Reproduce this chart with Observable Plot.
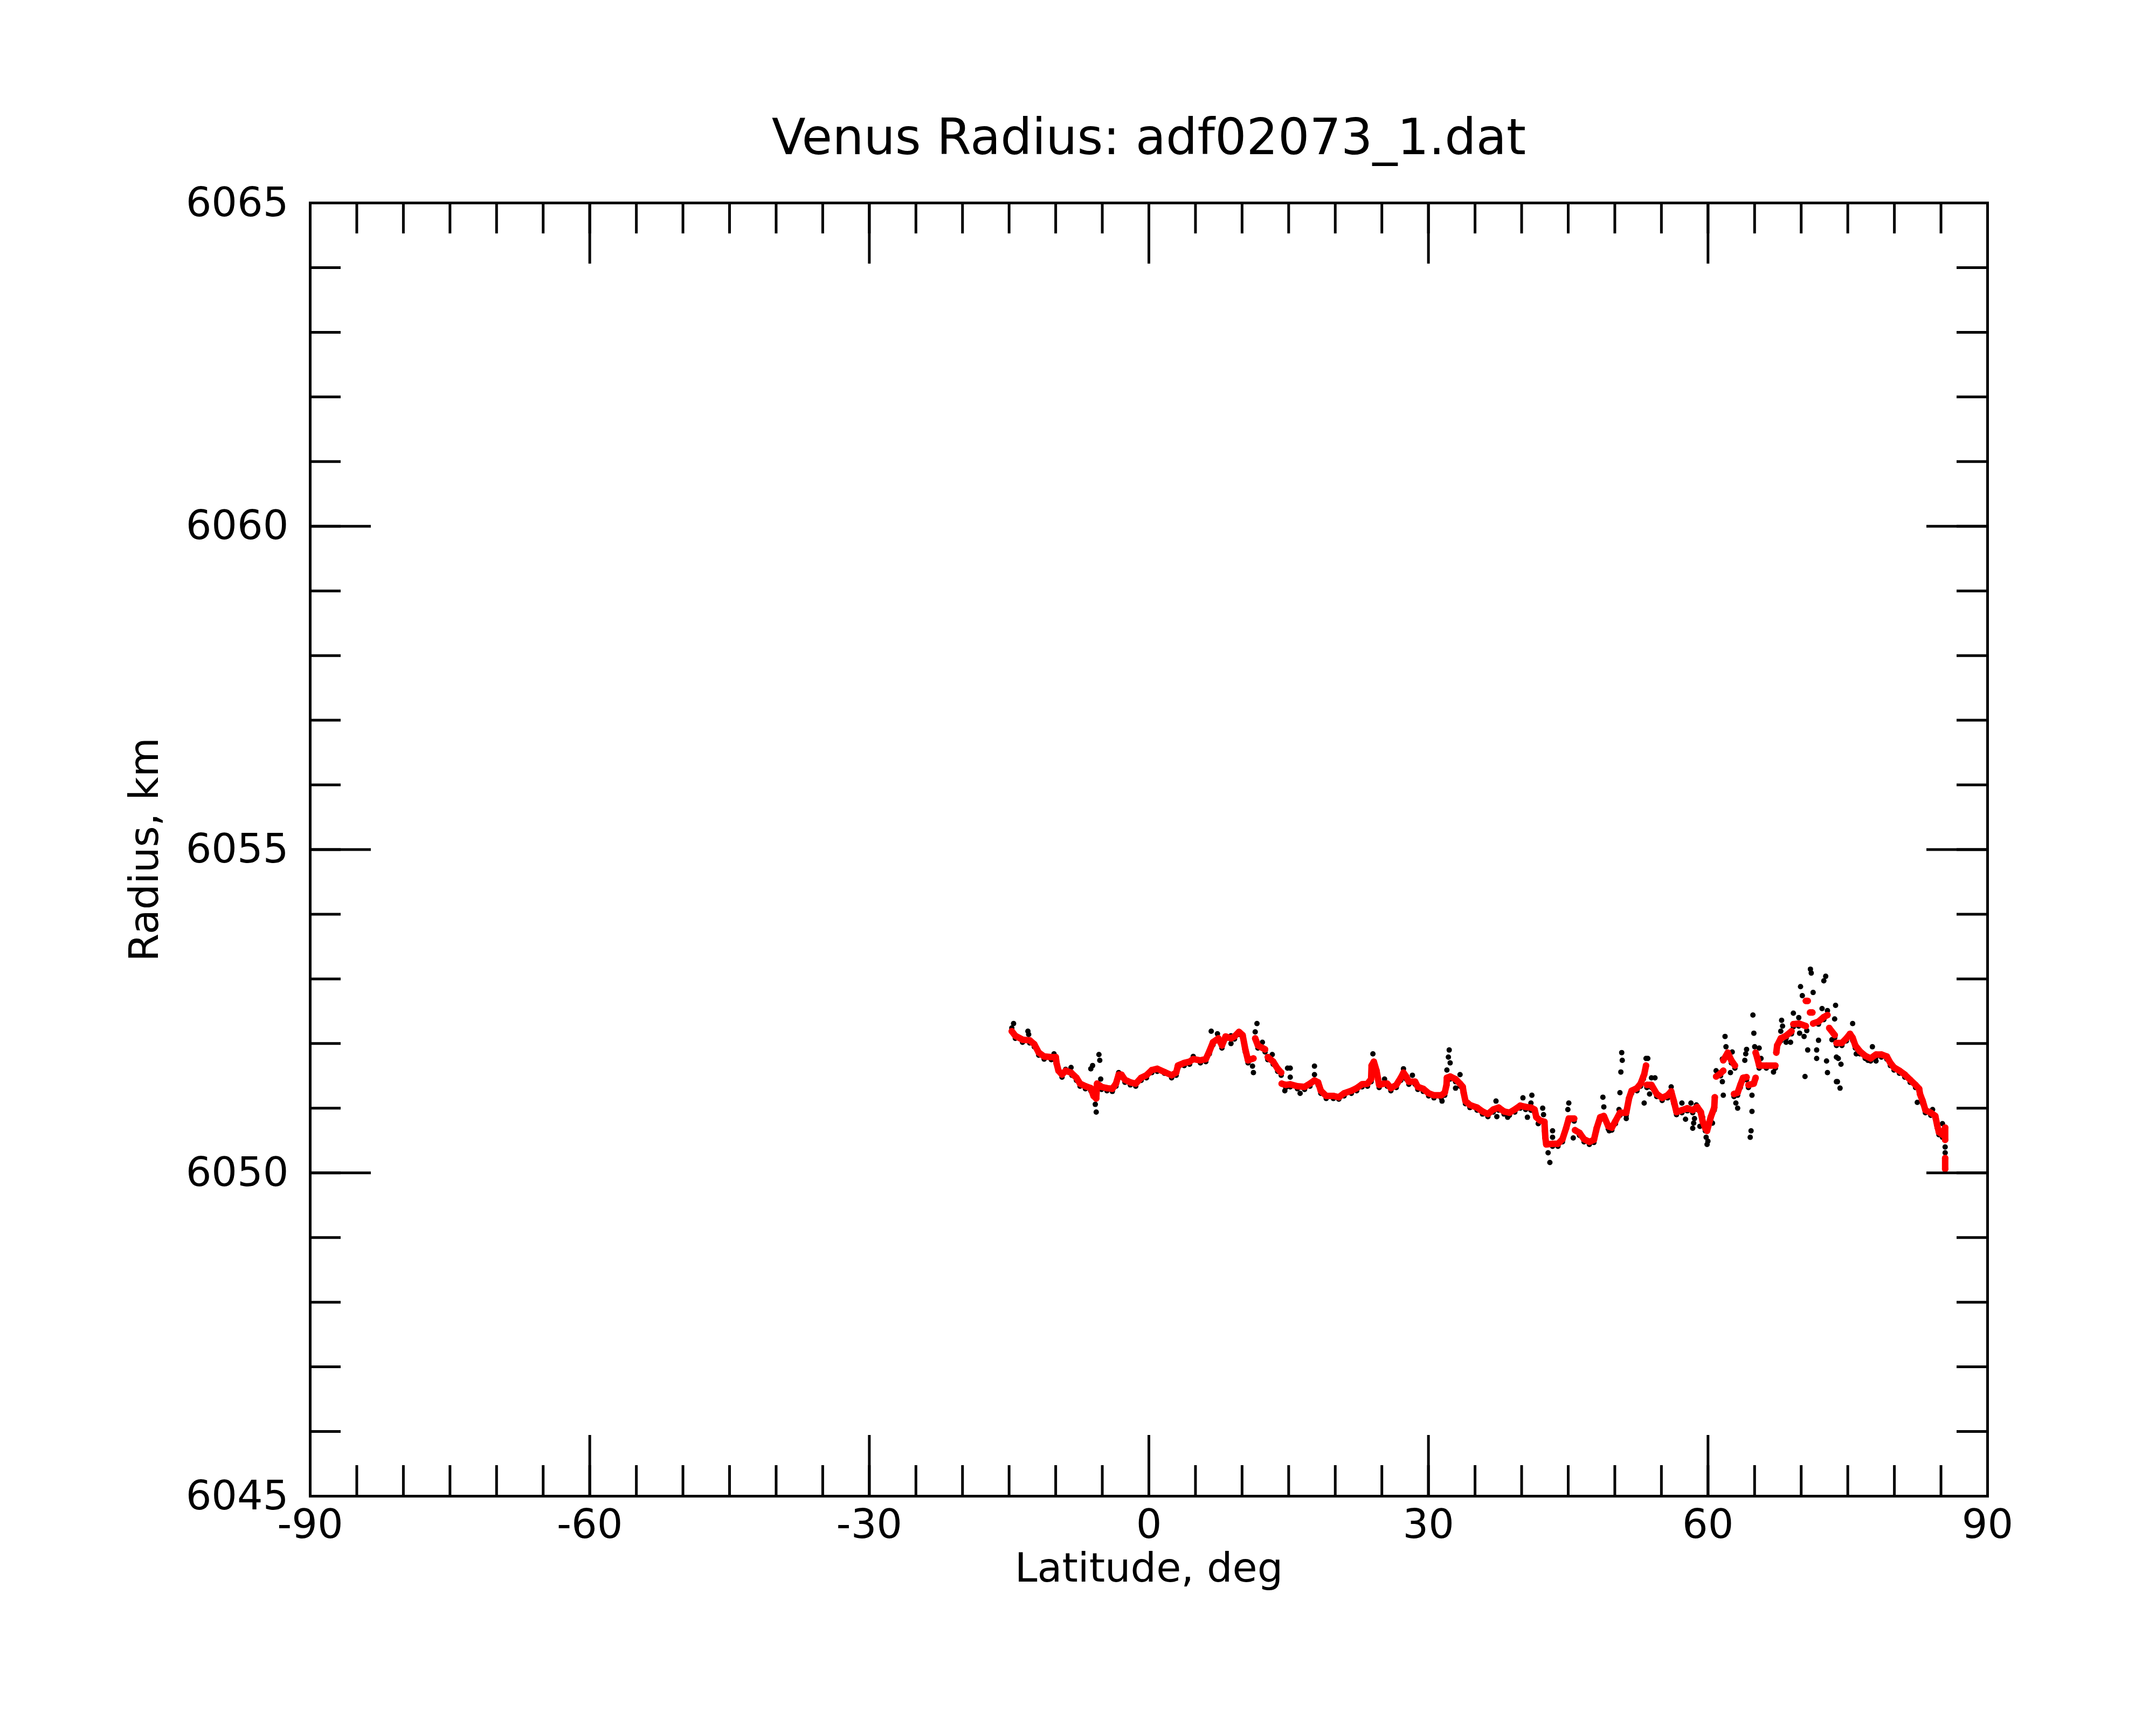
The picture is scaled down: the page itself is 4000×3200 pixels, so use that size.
<!DOCTYPE html>
<html>
<head>
<meta charset="utf-8">
<script src="https://cdn.jsdelivr.net/npm/d3@7"></script>
<script src="https://cdn.jsdelivr.net/npm/@observablehq/plot@0.6"></script>
<style>
  html, body { margin: 0; padding: 0; background: white; }
</style>
</head>
<body>
<div id="chart"></div>
<script>
// ---- tick definitions ----
const xMajorTicks = [-90, -60, -30, 0, 30, 60, 90];
const xMinorTicks = d3.range(-85, 90, 5);
const yMajorTicks = [6045, 6050, 6055, 6060, 6065];
const yMinorTicks = d3.range(6046, 6065, 1);

// ---- smoothed radius (red), null = gap ----
const redLat = [
  -14.71,-14.33,-13.56,-12.79,-12.30,-11.82,-11.24,-10.47,-9.99,-9.90,-9.70,-9.32,-8.93,-8.35,-7.77,-7.39,-6.81,-6.23,-5.94,-5.65,-5.56,-5.08,-4.50,-3.92,-3.53,-3.24,-2.95,-2.57,-1.99,-1.41,-0.83,-0.26,0.32,0.90,1.67,2.44,2.93,3.12,3.79,4.37,4.76,5.53,6.11,6.49,6.88,7.46,7.84,8.23,8.81,9.19,9.67,10.06,10.35,10.64,11.22,
  11.25,
  11.41,11.70,12.47,
  12.50,
  12.76,13.34,13.82,14.20,
  14.22,
  14.25,14.69,15.17,15.94,16.71,17.29,17.77,18.16,18.45,19.03,19.80,20.38,20.95,21.73,22.30,22.88,23.46,23.85,23.90,24.14,24.43,24.71,25.20,25.58,25.97,26.55,27.03,27.32,27.61,27.90,28.57,28.86,29.44,30.02,30.59,31.37,31.75,31.94,31.98,32.33,32.91,33.39,33.68,33.78,33.97,34.45,35.22,35.80,36.38,36.96,37.53,38.11,38.69,39.27,39.85,40.43,41.00,41.39,41.58,41.97,42.45,42.50,42.55,42.64,43.32,43.90,44.38,44.77,45.06,45.64,
  45.70,
  45.73,46.21,46.70,47.27,47.76,48.05,48.43,48.82,49.30,49.68,50.07,50.55,51.23,51.52,51.80,52.38,52.77,53.06,53.15,53.35,
  53.40,
  53.44,53.93,54.50,55.08,55.66,56.05,56.33,56.62,57.20,57.78,58.36,58.84,59.23,59.42,59.71,59.90,60.29,60.67,60.73,
  60.80,
  60.87,61.35,61.64,
  61.64,
  61.64,62.12,62.50,62.89,
  62.85,
  62.79,63.18,63.47,63.76,64.14,
  64.20,
  64.34,64.91,65.11,
  65.11,
  65.11,65.30,65.49,66.26,67.23,
  67.30,
  67.33,67.42,67.81,68.38,68.96,
  69.00,
  69.16,69.74,70.50,
  70.50,
  70.50,70.70,
  70.80,
  70.95,71.20,
  71.25,
  71.28,71.86,72.43,72.82,
  72.90,
  73.01,73.60,
  73.70,
  73.79,74.37,74.85,75.24,75.52,75.81,76.30,76.87,77.45,78.03,78.61,79.19,79.57,79.96,80.54,81.12,81.69,82.27,82.66,82.75,83.04,83.33,83.91,84.39,84.59,84.78,85.16,85.45,85.45,
  85.45,
  85.45,85.45
];
const redRadius = [
  6052.19,6052.12,6052.06,6052.05,6051.99,6051.86,6051.80,6051.79,6051.79,6051.69,6051.58,6051.52,6051.58,6051.55,6051.47,6051.38,6051.34,6051.31,6051.19,6051.15,6051.38,6051.33,6051.31,6051.30,6051.38,6051.52,6051.52,6051.44,6051.40,6051.38,6051.47,6051.51,6051.59,6051.61,6051.56,6051.51,6051.55,6051.66,6051.70,6051.72,6051.76,6051.74,6051.76,6051.88,6052.02,6052.08,6051.97,6052.11,6052.08,6052.11,6052.18,6052.13,6051.91,6051.74,6051.77,
  null,
  6052.08,6051.97,6051.91,
  null,
  6051.79,6051.72,6051.61,6051.55,
  null,
  6051.38,6051.36,6051.37,6051.34,6051.33,6051.38,6051.43,6051.40,6051.27,6051.19,6051.19,6051.17,6051.23,6051.27,6051.31,6051.37,6051.38,6051.45,6051.66,6051.72,6051.58,6051.36,6051.38,6051.38,6051.31,6051.36,6051.47,6051.55,6051.49,6051.41,6051.41,6051.33,6051.30,6051.23,6051.20,6051.20,6051.24,6051.36,6051.47,6051.49,6051.45,6051.38,6051.33,6051.24,6051.11,6051.05,6051.01,6050.95,6050.91,6050.98,6051.01,6050.95,6050.93,6050.98,6051.04,6051.02,6051.01,6050.98,6050.86,6050.81,6050.79,6050.65,6050.54,6050.44,6050.45,6050.45,6050.52,6050.69,6050.84,6050.84,
  null,
  6050.66,6050.62,6050.52,6050.48,6050.51,6050.69,6050.86,6050.88,6050.72,6050.70,6050.80,6050.93,6050.93,6051.15,6051.27,6051.31,6051.38,6051.49,6051.52,6051.66,
  null,
  6051.36,6051.36,6051.22,6051.16,6051.20,6051.26,6051.11,6050.94,6050.97,6051.00,6050.97,6051.02,6050.94,6050.80,6050.69,6050.65,6050.86,6051.01,6051.17,
  null,
  6051.49,6051.54,6051.58,
  null,
  6051.74,6051.86,6051.74,6051.66,
  null,
  6051.22,6051.24,6051.36,6051.47,6051.48,
  null,
  6051.36,6051.38,6051.47,
  null,
  6051.86,6051.77,6051.66,6051.66,6051.66,
  null,
  6051.86,6051.97,6052.08,6052.12,6052.19,
  null,
  6052.30,6052.31,6052.27,
  null,
  6052.66,6052.66,
  null,
  6052.48,6052.48,
  null,
  6052.31,6052.34,6052.41,6052.44,
  null,
  6052.24,6052.13,
  null,
  6052.01,6052.01,6052.08,6052.15,6052.09,6051.97,6051.88,6051.81,6051.77,6051.83,6051.83,6051.80,6051.70,6051.63,6051.58,6051.52,6051.44,6051.36,6051.30,6051.22,6051.11,6050.97,6050.93,6050.88,6050.74,6050.63,6050.59,6050.70,6050.51,
  null,
  6050.23,6050.06
];

// ---- raw radius samples (black) ----
const blackLat = [
  -14.71,-14.52,-14.33,-13.56,-12.98,-12.90,-12.79,-12.30,-11.82,-11.24,-10.47,-10.18,-9.99,-9.32,-8.93,-8.35,-8.26,-7.77,-7.39,-6.81,-6.23,-6.23,-6.04,-5.36,-5.27,-5.75,-5.65,-5.17,-5.08,-4.50,-3.92,-3.53,-3.24,-2.95,-2.57,-1.99,-1.41,-0.83,-0.26,0.32,0.90,1.67,2.44,2.93,3.12,3.79,4.20,4.37,4.76,5.53,6.11,6.49,6.69,6.88,7.36,7.46,7.84,8.23,8.81,8.81,9.19,9.67,10.06,10.35,10.64,11.12,11.22,11.60,11.41,12.18,11.70,12.47,12.76,13.24,13.34,13.82,14.20,14.59,14.88,14.69,
  15.17,15.17,15.17,15.94,16.23,16.71,17.29,17.77,17.77,18.16,18.45,19.03,19.80,20.38,20.95,21.73,22.30,22.88,23.46,23.85,24.04,24.14,24.43,24.71,25.29,25.58,25.97,26.55,27.03,27.32,27.61,27.90,28.28,28.57,28.86,29.44,30.02,30.59,31.37,31.46,31.75,31.98,32.23,32.14,32.33,32.33,32.91,32.91,33.39,33.39,33.68,33.97,34.45,35.22,35.80,36.38,36.96,37.25,37.34,37.53,38.11,38.50,38.69,39.27,39.85,40.14,40.43,40.62,41.00,41.10,41.00,41.39,41.78,42.26,42.35,42.45,43.32,43.32,42.84,43.03,43.32,43.90,44.38,
  45.06,44.96,45.06,45.54,45.64,46.21,46.70,47.27,47.76,48.05,48.43,48.72,48.82,48.82,49.40,49.30,49.68,50.07,50.45,50.55,50.65,50.80,50.74,50.55,51.23,51.23,51.52,51.80,52.38,52.77,53.06,53.15,53.35,53.54,53.44,53.73,53.93,54.31,53.93,54.50,55.08,55.66,56.05,56.05,56.33,56.62,57.20,57.20,57.59,57.78,58.17,58.36,58.46,58.36,58.55,58.75,58.84,59.13,59.23,59.42,59.42,59.80,59.90,59.99,59.71,60.48,60.29,60.67,
  60.87,61.35,61.54,61.64,61.83,61.93,61.54,62.12,62.41,62.60,62.50,62.89,62.99,63.18,62.79,63.18,63.47,63.76,63.95,64.14,64.05,64.14,64.34,64.72,64.72,64.62,64.53,64.82,64.92,65.01,65.49,65.69,65.49,66.26,67.03,67.23,67.42,67.81,67.90,68.00,67.81,68.38,68.86,68.38,68.96,69.16,69.16,69.74,69.83,69.74,70.31,70.60,69.93,70.12,70.70,70.41,70.99,71.08,71.28,71.66,71.66,71.86,71.86,72.24,72.43,72.63,72.82,72.72,72.82,72.43,73.69,73.59,73.78,73.78,73.30,73.98,74.27,74.17,73.89,73.60,
  73.79,74.37,74.85,75.52,75.52,75.24,75.81,75.91,76.30,76.87,77.16,77.45,77.64,78.03,78.03,78.61,79.19,79.57,79.96,80.54,81.12,81.69,82.27,82.46,82.66,83.04,83.33,83.91,84.10,84.39,84.59,84.78,85.16,85.45,85.45,85.16
];
const blackRadius = [
  6052.24,6052.31,6052.08,6052.02,6052.19,6052.14,6052.01,6051.95,6051.82,6051.76,6051.75,6051.84,6051.75,6051.48,6051.60,6051.63,6051.51,6051.43,6051.34,6051.30,6051.27,6051.61,6051.66,6051.83,6051.74,6051.06,6050.94,6051.45,6051.29,6051.27,6051.26,6051.34,6051.55,6051.48,6051.40,6051.36,6051.34,6051.43,6051.47,6051.55,6051.57,6051.54,6051.47,6051.51,6051.62,6051.66,6051.72,6051.68,6051.80,6051.70,6051.72,6051.84,6052.19,6051.98,6052.15,6052.04,6051.93,6052.07,6052.12,6052.00,6052.07,6052.14,6052.09,6051.87,6051.70,6051.65,6051.55,6052.31,6052.18,6052.02,6051.93,6051.87,6051.75,6051.83,6051.68,6051.57,6051.51,6051.27,6051.62,6051.32,
  6051.62,6051.48,6051.33,6051.30,6051.23,6051.29,6051.34,6051.65,6051.52,6051.36,6051.23,6051.15,6051.15,6051.14,6051.19,6051.23,6051.27,6051.33,6051.34,6051.41,6051.84,6051.68,6051.54,6051.32,6051.45,6051.34,6051.27,6051.32,6051.43,6051.61,6051.45,6051.37,6051.51,6051.37,6051.29,6051.26,6051.19,6051.16,6051.16,6051.11,6051.20,6051.59,6051.90,6051.79,6051.70,6051.45,6051.31,6051.41,6051.52,6051.34,6051.29,6051.07,6051.01,6050.97,6050.91,6050.87,6050.94,6051.11,6050.87,6050.97,6050.91,6050.86,6050.89,6050.94,6051.00,6051.16,6050.98,6050.86,6051.08,6051.20,6050.97,6050.94,6050.76,6051.00,6050.90,6050.75,6050.65,6050.55,6050.31,6050.16,6050.41,6050.41,6050.48,
  6051.08,6050.98,6050.80,6050.54,6050.80,6050.58,6050.48,6050.44,6050.47,6050.65,6050.82,6051.17,6051.02,6050.84,6050.65,6050.68,6050.66,6050.76,6050.98,6051.24,6051.56,6051.74,6051.86,6050.89,6050.84,6050.89,6051.11,6051.23,6051.27,6051.34,6051.45,6051.08,6051.77,6051.77,6051.32,6051.22,6051.47,6051.47,6051.32,6051.18,6051.12,6051.16,6051.33,6051.22,6051.07,6050.90,6051.08,6050.93,6050.83,6050.96,6051.08,6050.93,6050.77,6050.69,6050.84,6051.05,6050.98,6050.72,6050.90,6050.86,6050.76,6050.55,6050.44,6050.49,6050.65,6050.77,6050.82,6050.97,
  6051.58,6051.50,6051.41,6051.20,6052.11,6051.95,6051.76,6051.82,6051.55,6051.87,6051.70,6051.62,6051.08,6051.00,6051.18,6051.20,6051.32,6051.43,6051.74,6051.91,6051.84,6051.44,6051.32,6051.20,6050.95,6050.65,6050.55,6052.44,6052.16,6051.95,6051.93,6051.77,6051.62,6051.62,6051.56,6051.62,6051.93,6052.04,6052.36,6052.27,6052.19,6052.02,6052.02,6052.08,6052.15,6052.47,6052.26,6052.40,6052.16,6052.27,6052.11,6052.20,6052.88,6052.74,6051.90,6051.49,6053.15,6053.09,6052.79,6051.90,6051.77,6052.05,6052.30,6052.54,6052.97,6053.04,6052.51,6051.73,6051.55,6052.37,6052.59,6052.38,6051.79,6051.41,6052.06,6051.77,6051.68,6051.31,6051.41,6052.09,
  6051.97,6051.97,6052.04,6052.31,6052.05,6052.11,6051.93,6051.84,6051.84,6051.77,6051.74,6051.73,6051.95,6051.73,6051.79,6051.79,6051.76,6051.66,6051.59,6051.54,6051.48,6051.40,6051.32,6051.09,6051.26,6051.07,6050.93,6050.89,6050.98,6050.84,6050.70,6050.59,6050.76,6050.40,6050.31,6050.55
];

const raw = blackLat.map((lat, i) => ({lat, r: blackRadius[i]}));
const smooth = redLat.map((lat, i) => ({lat, r: redRadius[i]}));

// ---- layout ----
const W = 4000, H = 3200;
const mL = 575, mR = 313, mT = 376, mB = 425;
const fw = W - mL - mR, fh = H - mT - mB;
const minorLen = 57, majorLen = 113, tw = 5;

const chart = Plot.plot({
  width: W, height: H,
  marginLeft: mL, marginRight: mR, marginTop: mT, marginBottom: mB,
  style: {fontFamily: "DejaVu Sans", background: "white", color: "black"},
  x: {domain: [-90, 90]},
  y: {domain: [6045, 6065]},
  marks: [
    // data
    Plot.dot(raw, {x: "lat", y: "r", r: 5, fill: "black"}),
    Plot.line(smooth, {x: "lat", y: "r", stroke: "red", strokeWidth: 12, strokeLinecap: "round", strokeLinejoin: "round"}),
    Plot.dot(smooth, {x: "lat", y: "r", r: 6, fill: "red"}),
    // inward ticks: bottom & top
    Plot.tickX(xMinorTicks, {x: d => d, insetTop: fh - minorLen, stroke: "black", strokeWidth: tw}),
    Plot.tickX(xMajorTicks, {x: d => d, insetTop: fh - majorLen, stroke: "black", strokeWidth: tw}),
    Plot.tickX(xMinorTicks, {x: d => d, insetBottom: fh - minorLen, stroke: "black", strokeWidth: tw}),
    Plot.tickX(xMajorTicks, {x: d => d, insetBottom: fh - majorLen, stroke: "black", strokeWidth: tw}),
    // inward ticks: left & right
    Plot.tickY(yMinorTicks, {y: d => d, insetRight: fw - minorLen, stroke: "black", strokeWidth: tw}),
    Plot.tickY(yMajorTicks, {y: d => d, insetRight: fw - majorLen, stroke: "black", strokeWidth: tw}),
    Plot.tickY(yMinorTicks, {y: d => d, insetLeft: fw - minorLen, stroke: "black", strokeWidth: tw}),
    Plot.tickY(yMajorTicks, {y: d => d, insetLeft: fw - majorLen, stroke: "black", strokeWidth: tw}),
    Plot.frame({stroke: "black", strokeWidth: 5}),
    // tick labels
    Plot.axisX({ticks: xMajorTicks, tickSize: 0, tickPadding: 24, fontSize: 75, tickFormat: d => String(d), label: null}),
    Plot.axisY({ticks: yMajorTicks, tickSize: 0, tickPadding: 40, fontSize: 75, tickFormat: d => String(d), label: null}),
    // titles
    Plot.text(["Venus Radius: adf02073_1.dat"], {frameAnchor: "top", lineAnchor: "top", dy: -156, fontSize: 92, fill: "black"}),
    Plot.text(["Latitude, deg"], {frameAnchor: "bottom", lineAnchor: "top", dy: 105, fontSize: 75, fill: "black"}),
    Plot.text(["Radius, km"], {frameAnchor: "left", rotate: -90, textAnchor: "middle", lineAnchor: "middle", dx: -307, fontSize: 75, fill: "black"})
  ]
});
document.getElementById("chart").appendChild(chart);
</script>
</body>
</html>
